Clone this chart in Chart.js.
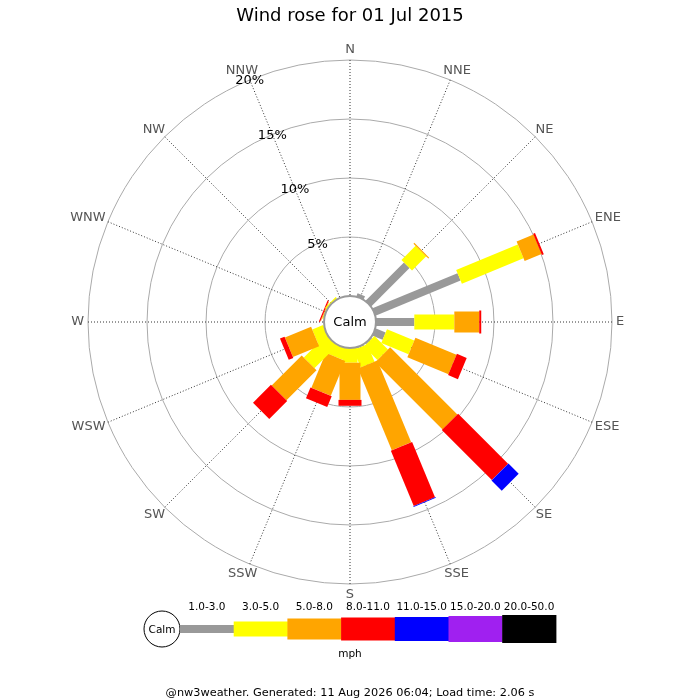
<!DOCTYPE html>
<html>
<head>
<meta charset="utf-8">
<title>Wind rose for 01 Jul 2015</title>
<script src="https://cdn.jsdelivr.net/npm/chart.js@4.4.1/dist/chart.umd.min.js"></script>
<style>
  html, body { margin: 0; padding: 0; background: #fff; }
  #wrap { width: 700px; height: 700px; }
</style>
</head>
<body>
<div id="wrap"><canvas id="windRose"></canvas></div>
<script>
// 16 compass points, clockwise from north
var directions = ['N', 'NNE', 'NE', 'ENE', 'E', 'ESE', 'SE', 'SSE', 'S', 'SSW', 'SW', 'WSW', 'W', 'WNW', 'NW', 'NNW'];
var speedBands = ['1.0-3.0', '3.0-5.0', '5.0-8.0', '8.0-11.0', '11.0-15.0', '15.0-20.0', '20.0-50.0'];

// % of the day per direction, one array per speed band (mph)
var speed1to3   = [0, 0.3, 4.6, 7.8, 3.25, 0.93, 0.1, 0.1, 0, 0, 0, 0, 0, 0, 0, 0];
var speed3to5   = [0, 0, 1.7, 5.65, 3.39, 2.5, 1.62, 1.6, 1.25, 1.0, 2.7, 1.0, 0, 0.1, 0.15, 0];
var speed5to8   = [0, 0, 0.1, 1.55, 2.11, 3.77, 8.06, 7.5, 3.15, 3.2, 3.6, 2.4, 0, 0.05, 0, 0];
var speed8to11  = [0, 0, 0, 0.17, 0.17, 0.9, 5.99, 5.07, 0.5, 1.0, 2.15, 0.42, 0, 0.1, 0, 0];
var speed11to15 = [0, 0, 0, 0, 0, 0, 1.23, 0.08, 0, 0, 0, 0, 0, 0, 0, 0];
var speed15to20 = [0, 0, 0, 0, 0, 0, 0, 0, 0, 0, 0, 0, 0, 0, 0, 0];
var speed20to50 = [0, 0, 0, 0, 0, 0, 0, 0, 0, 0, 0, 0, 0, 0, 0, 0];

var tickValues = [5, 10, 15, 20];

// styling for each band
var bandColors = ['#999999', '#ffff00', '#ffa500', '#ff0000', '#0000ff', '#a020f0', '#000000'];
var bandWidths = [8, 15, 21, 23, 24, 26, 28];

Chart.defaults.font.family = "'DejaVu Sans', sans-serif";
Chart.defaults.color = '#000';

var bandData = [speed1to3, speed3to5, speed5to8, speed8to11, speed11to15, speed15to20, speed20to50];

// draws the stacked spokes, calm circle, labels and legend
var windRosePlugin = {
  id: 'windRose',
  afterDatasetsDraw: function (chart) {
    var ctx = chart.ctx;
    var scale = chart.scales.r;
    ctx.save();

    directions.forEach(function (dir, i) {
      var total = 0;
      chart.data.datasets.forEach(function (ds, b) {
        var v = ds.data[i];
        if (!v) return;
        var p1 = scale.getPointPositionForValue(i, total);
        var p2 = scale.getPointPositionForValue(i, total + v);
        ctx.beginPath();
        ctx.lineCap = 'butt';
        ctx.lineWidth = bandWidths[b];
        ctx.strokeStyle = bandColors[b];
        ctx.moveTo(p1.x, p1.y);
        ctx.lineTo(p2.x, p2.y);
        ctx.stroke();
        total += v;
      });
    });

    // calm circle in the middle
    var rCalm = scale.getDistanceFromCenterForValue(0);
    ctx.beginPath();
    ctx.arc(scale.xCenter, scale.yCenter, rCalm, 0, Math.PI * 2);
    ctx.fillStyle = '#fff';
    ctx.fill();
    ctx.lineWidth = 2;
    ctx.strokeStyle = '#999';
    ctx.stroke();
    ctx.fillStyle = '#000';
    ctx.font = "13px 'DejaVu Sans'";
    ctx.textAlign = 'center';
    ctx.textBaseline = 'middle';
    ctx.fillText('Calm', scale.xCenter, scale.yCenter + 1);

    // % labels run along the NNW spoke
    tickValues.forEach(function (v) {
      var p = scale.getPointPositionForValue(15, v);
      ctx.fillText(v + '%', p.x, p.y + 1);
    });

    // compass labels just outside the outer ring
    ctx.fillStyle = '#555';
    directions.forEach(function (dir, i) {
      var p = scale.getPointPosition(i, scale.drawingArea + 4);
      var a = scale.getIndexAngle(i);
      var w = ctx.measureText(dir).width;
      ctx.fillText(dir, p.x + w / 2 * Math.sin(a), p.y - 6.5 * Math.cos(a));
    });

    // legend strip
    var lx = 180, ly = 629, segW = 53.7;
    ctx.beginPath();
    ctx.arc(162, ly, 18, 0, Math.PI * 2);
    ctx.fillStyle = '#fff';
    ctx.fill();
    ctx.lineWidth = 1;
    ctx.strokeStyle = '#000';
    ctx.stroke();
    ctx.fillStyle = '#000';
    ctx.font = "10.5px 'DejaVu Sans'";
    ctx.fillText('Calm', 162, ly + 1);
    speedBands.forEach(function (lbl, b) {
      var x0 = lx + b * segW;
      ctx.fillStyle = bandColors[b];
      ctx.fillRect(x0, ly - bandWidths[b] / 2, segW + 0.5, bandWidths[b]);
      ctx.fillStyle = '#000';
      ctx.fillText(lbl, x0 + segW / 2, 607);
    });
    ctx.fillText('mph', 350, 654);

    ctx.restore();
  }
};

var ctx = document.getElementById('windRose');
new Chart(ctx, {
  type: 'radar',
  data: {
    labels: directions,
    datasets: bandData.map(function (vals, b) {
      return {
        label: speedBands[b],
        data: vals,
        showLine: false,
        borderWidth: 0,
        pointRadius: 0,
        pointHitRadius: 0,
        fill: false
      };
    })
  },
  options: {
    responsive: true,
    maintainAspectRatio: false,
    animation: false,
    layout: { padding: { left: 88, right: 88, top: 0, bottom: 0 } },
    plugins: {
      legend: { display: false },
      tooltip: { enabled: false },
      title: {
        display: true,
        text: 'Wind rose for 01 Jul 2015',
        color: '#000',
        font: { size: 18, weight: 'normal' },
        padding: { top: 6, bottom: 32.4 }
      },
      subtitle: {
        display: true,
        position: 'bottom',
        text: '@nw3weather. Generated: 11 Aug 2026 06:04; Load time: 2.06 s',
        color: '#000',
        font: { size: 11.3 },
        padding: { top: 102.4, bottom: 0 }
      }
    },
    scales: {
      r: {
        min: -2.2,
        max: 20,
        afterBuildTicks: function (scale) {
          scale.ticks = [{ value: -2.2 }].concat(tickValues.map(function (v) { return { value: v }; }));
        },
        ticks: { display: false },
        grid: { circular: true, color: '#aaaaaa', lineWidth: 1 },
        angleLines: { color: '#333', lineWidth: 1, borderDash: [1, 2] },
        pointLabels: { display: false }
      }
    }
  },
  plugins: [windRosePlugin]
});
</script>
</body>
</html>
